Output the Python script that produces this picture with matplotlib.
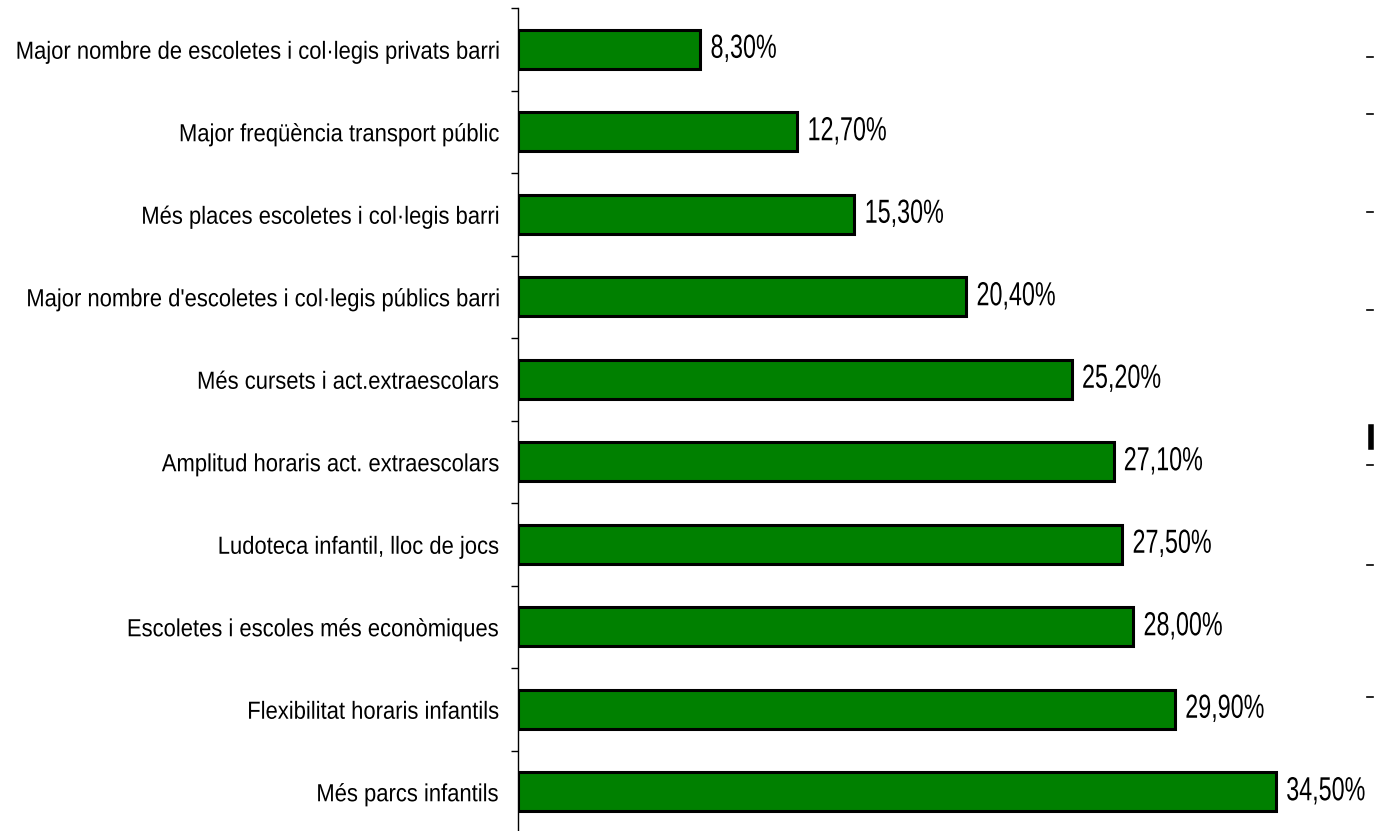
import matplotlib.pyplot as plt
from matplotlib.lines import Line2D
from matplotlib.patheffects import AbstractPathEffect
from matplotlib.transforms import Affine2D
from matplotlib.ticker import FixedLocator, NullLocator

categories = [
    "Major nombre de escoletes i col·legis privats barri",
    "Major freqüència transport públic",
    "Més places escoletes i col·legis barri",
    "Major nombre d'escoletes i col·legis públics barri",
    "Més cursets i act.extraescolars",
    "Amplitud horaris act. extraescolars",
    "Ludoteca infantil, lloc de jocs",
    "Escoletes i escoles més econòmiques",
    "Flexibilitat horaris infantils",
    "Més parcs infantils",
]
values = [8.3, 12.7, 15.3, 20.4, 25.2, 27.1, 27.5, 28.0, 29.9, 34.5]


class Squeeze(AbstractPathEffect):
    """Draw text horizontally condensed (the original uses a narrow font)."""

    def __init__(self, sx, anchor="left"):
        super().__init__()
        self.sx = sx
        self.anchor = anchor

    def draw_path(self, renderer, gc, tpath, affine, rgbFace=None):
        ext = tpath.get_extents()
        x0 = ext.x1 if self.anchor == "right" else ext.x0
        t = Affine2D().translate(-x0, 0).scale(self.sx, 1).translate(x0, 0) + affine
        renderer.draw_path(gc, tpath, t, rgbFace)


font = ["Liberation Sans", "DejaVu Sans"]

fig = plt.figure(figsize=(13.75, 8.31), dpi=100)
ax = fig.add_axes([518 / 1375, -2 / 831, 857 / 1375, 825 / 831])

y = list(range(len(categories)))
bars = ax.barh(y, values, height=0.47, color="#008000", edgecolor="black", linewidth=2.2)
ax.set_ylim(len(categories) - 0.5, -0.5)
ax.set_xlim(0, 39)

ax.set_yticks(y)
ax.set_yticklabels(categories, family=font, fontsize=17.8)
ax.tick_params(axis="y", which="major", length=0, pad=14)
for lbl in ax.get_yticklabels():
    lbl.set_path_effects([Squeeze(0.89, "right")])
ax.yaxis.set_minor_locator(FixedLocator([i - 0.5 for i in range(len(categories) + 1)]))
ax.tick_params(axis="y", which="minor", length=5, width=1, color="black")
ax.xaxis.set_major_locator(NullLocator())

for s in ["top", "right", "bottom"]:
    ax.spines[s].set_visible(False)
ax.spines["left"].set_linewidth(1)

texts = ax.bar_label(bars, labels=[f"{v:.2f}%".replace(".", ",") for v in values],
                     padding=7, family=font, fontsize=24, clip_on=False)
for t in texts:
    t.set_path_effects([Squeeze(0.7, "left")])

# fragments of a neighbouring chart cut off at the right edge
for yy in [57, 114, 212, 310, 465, 565, 697]:
    fig.add_artist(Line2D([1367 / 1375, 1373 / 1375], [1 - yy / 831, 1 - yy / 831],
                          color="black", linewidth=1.2))
fig.add_artist(Line2D([1371 / 1375, 1371 / 1375], [1 - 427 / 831, 1 - 447 / 831],
                      color="black", linewidth=4))

fig.savefig("out.png", dpi=100)
